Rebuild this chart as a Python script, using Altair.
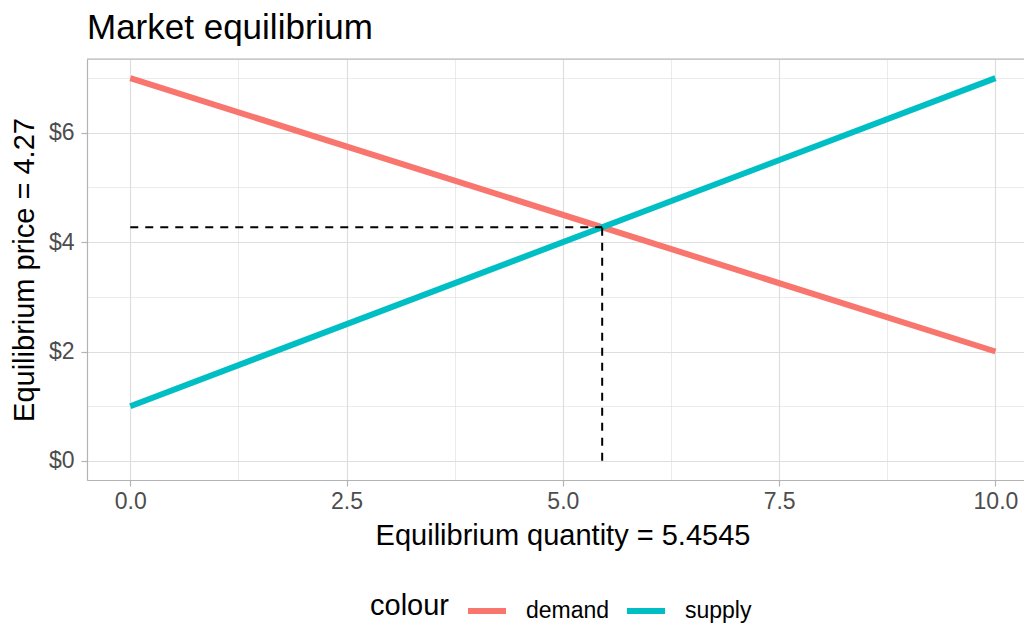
import altair as alt
import pandas as pd

# ---- data ----
quantity = [0.0, 10.0]
demand_price = [7.0, 2.0]
supply_price = [1.0, 7.0]
eq_quantity = 5.4545
eq_price = 4.2727
series = ["demand", "supply"]
series_colors = ["#F8766D", "#00BFC4"]
x_ticks = [0, 1.25, 2.5, 3.75, 5, 6.25, 7.5, 8.75, 10]
y_ticks = [0, 1, 2, 3, 4, 5, 6, 7]

lines_df = pd.DataFrame({
    "quantity": quantity + quantity,
    "price": demand_price + supply_price,
    "curve": [series[0]] * len(quantity) + [series[1]] * len(quantity),
})
guides_df = pd.DataFrame({
    "x": [0.0, eq_quantity],
    "x2": [eq_quantity, eq_quantity],
    "y": [eq_price, 0.0],
    "y2": [eq_price, eq_price],
})
border_df = pd.DataFrame({"k": [0]})

FONT = "Liberation Sans"
W, H = 937, 421

x_scale = alt.Scale(domain=[-0.5, 10.33], nice=False, zero=False)
y_scale = alt.Scale(domain=[-0.35, 7.35], nice=False, zero=False)

major_x = "datum.value % 2.5 === 0"
major_y = "datum.value % 2 === 0"

x_axis = alt.Axis(
    values=x_ticks,
    labelExpr=f"{major_x} ? format(datum.value, '.1f') : ''",
    grid=True, gridColor="#DEDEDE",
    gridWidth={"condition": {"test": major_x, "value": 1.2}, "value": 0.6},
    tickColor="#B3B3B3", tickWidth=1.2, tickSize=6,
    tickOpacity={"condition": {"test": major_x, "value": 1}, "value": 0},
    labelPadding=4, labelFontSize=23, labelColor="#4D4D4D", labelFont=FONT,
    labelFlush=False, labelOverlap=False,
    domainColor="#B3B3B3", domainWidth=1.2,
    title="Equilibrium quantity = 5.4545", titleFontSize=29, titleColor="black",
    titleFontWeight="normal", titleFont=FONT,
    titleX=475.5, titleY=64, titleBaseline="alphabetic", titleAlign="center",
)
y_axis = alt.Axis(
    values=y_ticks,
    labelExpr=f"{major_y} ? '$' + datum.value : ''",
    grid=True, gridColor="#DEDEDE",
    gridWidth={"condition": {"test": major_y, "value": 1.2}, "value": 0.6},
    tickColor="#B3B3B3", tickWidth=1.2, tickSize=6,
    tickOpacity={"condition": {"test": major_y, "value": 1}, "value": 0},
    labelPadding=7, labelFontSize=23, labelColor="#4D4D4D", labelFont=FONT,
    labelFlush=False, labelOverlap=False,
    domainColor="#B3B3B3", domainWidth=1.2,
    title="Equilibrium price = 4.27", titleFontSize=29, titleColor="black",
    titleFontWeight="normal", titleFont=FONT, titleAngle=270,
    titleX=-63, titleY=210.5, titleBaseline="middle", titleAlign="center",
)

legend = alt.Legend(
    orient="none", legendX=283, legendY=530, direction="horizontal",
    title="colour", titleOrient="left", titleFontSize=29, titleFontWeight="normal",
    titleColor="black", titleFont=FONT, titlePadding=16,
    titleAnchor="middle", titleBaseline="middle",
    labelFontSize=23, labelColor="black", labelFont=FONT, labelOffset=17,
    symbolType="stroke", symbolSize=1444, symbolStrokeWidth=6, columnPadding=5,
)

lines = alt.Chart(lines_df).mark_line(strokeWidth=6, strokeCap="butt").encode(
    x=alt.X("quantity:Q", scale=x_scale, axis=x_axis),
    y=alt.Y("price:Q", scale=y_scale, axis=y_axis),
    color=alt.Color("curve:N", scale=alt.Scale(domain=series, range=series_colors), legend=legend),
)

guides = alt.Chart(guides_df).mark_rule(color="black", strokeWidth=2, strokeDash=[8, 7]).encode(
    x=alt.X("x:Q", scale=x_scale),
    x2="x2:Q",
    y=alt.Y("y:Q", scale=y_scale),
    y2="y2:Q",
)

top_border = alt.Chart(border_df).mark_rule(color="#B3B3B3", strokeWidth=1.2).encode(
    x=alt.value(0), x2=alt.value(W), y=alt.value(0)
)

chart = alt.layer(lines, guides, top_border).properties(
    width=W, height=H,
    autosize="none",
    padding={"left": 79, "top": 51, "right": 0, "bottom": 144},
    title=alt.TitleParams(
        "Market equilibrium", anchor="start", frame="group", fontSize=35,
        fontWeight="normal", color="black", font=FONT, baseline="alphabetic",
        offset=22, dy=38,
    ),
).configure_view(stroke="transparent").configure(font=FONT)

chart.save("out.html", embed_options={"renderer": "svg", "actions": False})
